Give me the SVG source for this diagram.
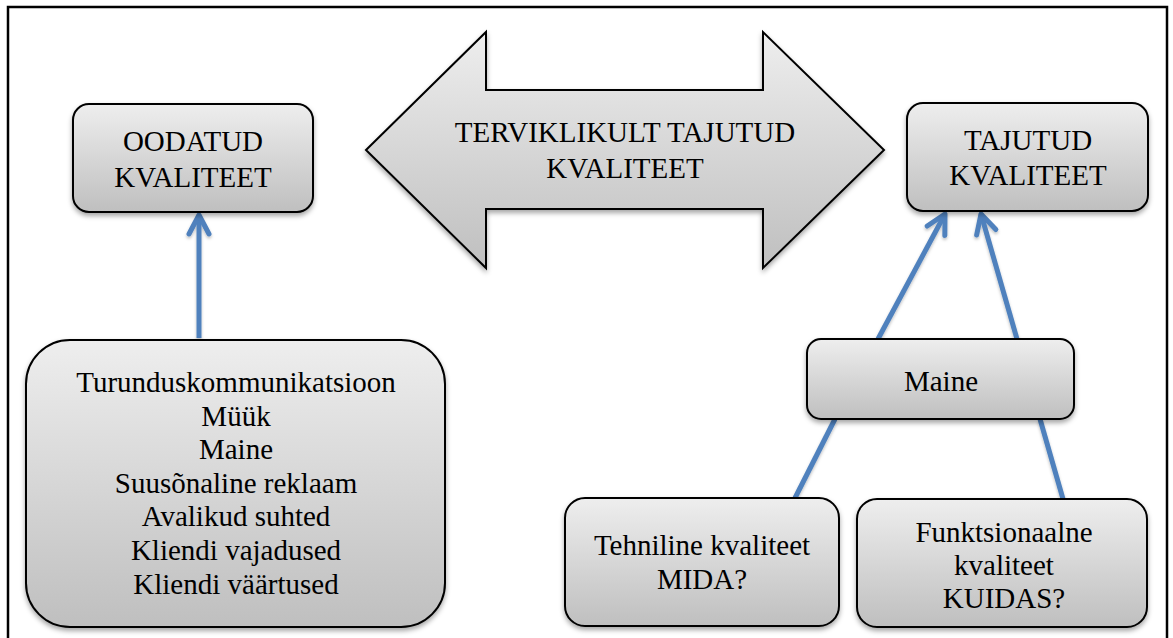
<svg xmlns="http://www.w3.org/2000/svg" width="1173" height="638" viewBox="0 0 1173 638">
<defs>
<linearGradient id="g" x1="0" y1="0" x2="0" y2="1">
<stop offset="0" stop-color="#eeeeee"/>
<stop offset="1" stop-color="#bfbfbf"/>
</linearGradient>
<filter id="sh" x="-10%" y="-10%" width="120%" height="130%">
<feDropShadow dx="0" dy="3" stdDeviation="2.5" flood-color="#000" flood-opacity="0.35"/>
</filter>
<filter id="sh2" x="-20%" y="-20%" width="140%" height="140%">
<feDropShadow dx="0" dy="2" stdDeviation="1.5" flood-color="#000" flood-opacity="0.25"/>
</filter>
<marker id="ah" markerUnits="userSpaceOnUse" viewBox="-24 -14 28 28" refX="0" refY="0" markerWidth="28" markerHeight="28" orient="auto">
<path d="M -19 -10 L 0 0 L -19 10" fill="none" stroke="#4F81BD" stroke-width="5" stroke-linecap="round" stroke-linejoin="round"/>
</marker>
</defs>
<style>
.box{fill:url(#g);stroke:#000;stroke-width:2;filter:url(#sh)}
.t{font-family:'Liberation Serif','Times New Roman',serif;font-size:29px;fill:#000;text-anchor:middle}
.c{stroke:#4F81BD;stroke-width:5;fill:none;stroke-linecap:butt}
</style>
<rect x="0" y="0" width="1173" height="638" fill="#fff"/>
<rect x="8" y="7" width="1159" height="640" fill="none" stroke="#000" stroke-width="2.5"/>

<g id="connectors" filter="url(#sh2)">
<line class="c" x1="199" y1="338" x2="199" y2="215" marker-end="url(#ah)"/>
<line class="c" x1="878" y1="339" x2="945" y2="214" marker-end="url(#ah)"/>
<line class="c" x1="1017" y1="339" x2="981" y2="214" marker-end="url(#ah)"/>
<line class="c" x1="795" y1="498" x2="835" y2="419"/>
<line class="c" x1="1063" y1="499" x2="1040" y2="419"/>
</g>

<g id="oodatud">
<rect class="box" x="73" y="104" width="240" height="108" rx="16"/>
<text class="t" x="193" y="151">OODATUD</text>
<text class="t" x="193" y="187">KVALITEET</text>
</g>

<g id="tervik">
<path class="box" d="M366 150 L486 32 L486 90 L763 90 L763 32 L884 150 L763 268 L763 209 L486 209 L486 268 Z"/>
<text class="t" x="625" y="142">TERVIKLIKULT TAJUTUD</text>
<text class="t" x="625" y="178">KVALITEET</text>
</g>

<g id="tajutud">
<rect class="box" x="907" y="103" width="241" height="108" rx="16"/>
<text class="t" x="1028" y="150">TAJUTUD</text>
<text class="t" x="1028" y="185">KVALITEET</text>
</g>

<g id="tegurid">
<rect class="box" x="26" y="340" width="419" height="287" rx="44"/>
<text class="t" x="236" y="392">Turunduskommunikatsioon</text>
<text class="t" x="236" y="425.5">Müük</text>
<text class="t" x="236" y="459">Maine</text>
<text class="t" x="236" y="492.5">Suusõnaline reklaam</text>
<text class="t" x="236" y="526">Avalikud suhted</text>
<text class="t" x="236" y="559.5">Kliendi vajadused</text>
<text class="t" x="236" y="594">Kliendi väärtused</text>
</g>

<g id="maine">
<rect class="box" x="807" y="339" width="267" height="80" rx="14"/>
<text class="t" x="941" y="391">Maine</text>
</g>

<g id="tehniline">
<rect class="box" x="565" y="498" width="274" height="128" rx="20"/>
<text class="t" x="702" y="555">Tehniline kvaliteet</text>
<text class="t" x="702" y="589">MIDA?</text>
</g>

<g id="funktsionaalne">
<rect class="box" x="857" y="499" width="290" height="128" rx="20"/>
<text class="t" x="1004" y="542">Funktsionaalne</text>
<text class="t" x="1004" y="575">kvaliteet</text>
<text class="t" x="1004" y="608">KUIDAS?</text>
</g>
</svg>
